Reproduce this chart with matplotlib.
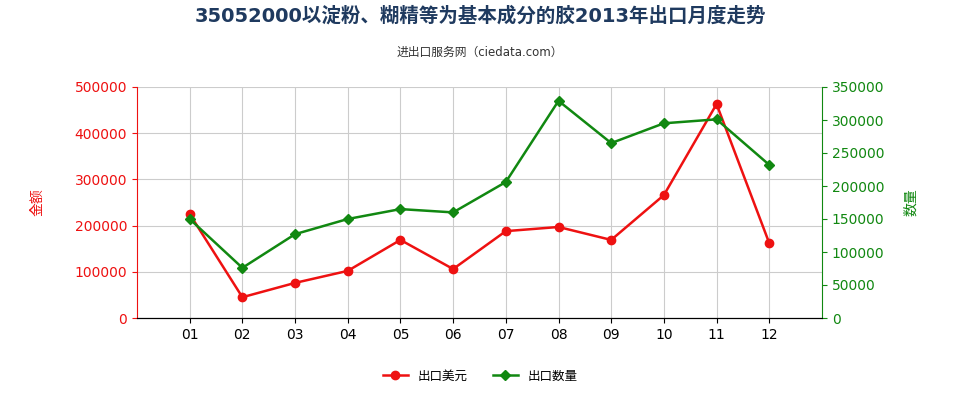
import matplotlib
matplotlib.use("Agg")
import matplotlib.pyplot as plt
from matplotlib import font_manager

# find a CJK font file directly
cjk = [f for f in font_manager.findSystemFonts() if "CJK" in f or "cjk" in f]
if cjk:
    font_manager.fontManager.addfont(cjk[0])
    name = font_manager.FontProperties(fname=cjk[0]).get_name()
    plt.rcParams["font.family"] = ["DejaVu Sans", name]
else:
    plt.rcParams["font.family"] = ["DejaVu Sans", "Noto Sans CJK SC"]

months = ["01", "02", "03", "04", "05", "06", "07", "08", "09", "10", "11", "12"]
value_usd = [225000, 45000, 76000, 102000, 169000, 106000, 188000, 197000, 169000, 266000, 463000, 162000]
quantity = [150000, 76000, 127000, 150000, 165000, 160000, 206000, 329000, 265000, 295000, 301000, 232000]

RED = "#ee1111"
GREEN = "#118811"

fig = plt.figure(figsize=(9.6, 4.0), dpi=100)
ax = fig.add_axes([0.1427, 0.205, 0.7135, 0.5775])
ax2 = ax.twinx()

x = list(range(len(months)))
l1, = ax.plot(x, value_usd, color=RED, marker="o", ms=6, lw=1.8, label="出口美元")
l2, = ax2.plot(x, quantity, color=GREEN, marker="D", ms=5, lw=1.8, label="出口数量")

ax.set_xlim(-1, 12)
ax.set_ylim(0, 500000)
ax2.set_ylim(0, 350000)
ax.set_yticks(range(0, 500001, 100000))
ax2.set_yticks(range(0, 350001, 50000))
ax.set_xticks(x)
ax.set_xticklabels(months)
ax.grid(True, color="#cccccc", lw=0.8)
ax.set_axisbelow(True)

ax.tick_params(axis="y", colors=RED, labelsize=10)
ax2.tick_params(axis="y", colors=GREEN, labelsize=10)
ax.tick_params(axis="x", labelsize=10)
for s in ["top", "right"]:
    ax.spines[s].set_visible(False)
ax2.spines["top"].set_visible(False)
ax2.spines["left"].set_visible(False)
ax.spines["left"].set_color(RED)
ax2.spines["right"].set_color(GREEN)

ax.set_ylabel("金额", color=RED, fontsize=10, labelpad=22)
ax2.set_ylabel("数量", color=GREEN, fontsize=10, labelpad=14)

fig.text(0.5, 0.945, "35052000以淀粉、糊精等为基本成分的胶2013年出口月度走势",
         ha="center", fontsize=14, fontweight="bold", color="#1f3a5f")
fig.text(0.5, 0.86, "进出口服务网（ciedata.com）", ha="center", fontsize=8.5, color="#333333")

fig.legend(handles=[l1, l2], loc="center", bbox_to_anchor=(0.5, 0.06), ncol=2,
           frameon=False, fontsize=9)

fig.savefig("out.png", dpi=100)
